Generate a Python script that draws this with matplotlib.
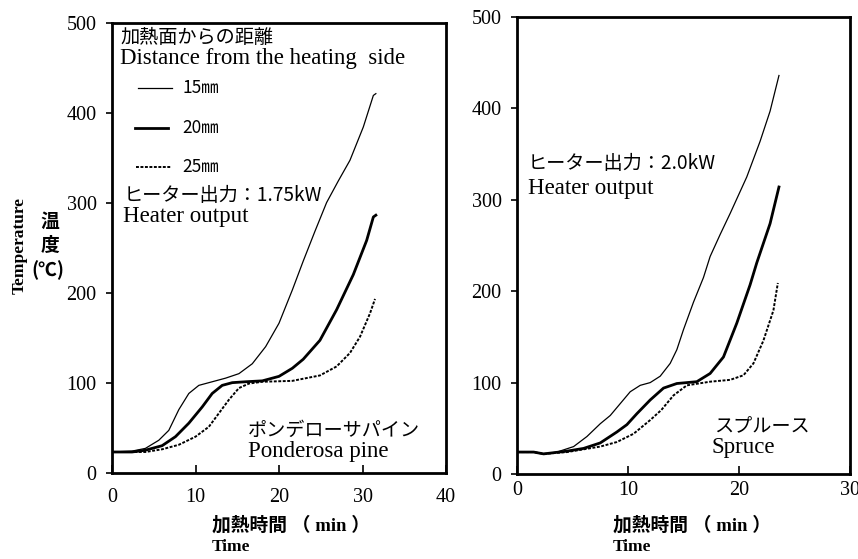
import matplotlib
matplotlib.use("Agg")
import matplotlib.pyplot as plt

# ---------------- data ----------------
# Left panel: Ponderosa pine, heater output 1.75 kW
pine_t15 = [0, 2.4, 4.0, 5.6, 6.8, 8.0, 9.2, 10.4, 12.0, 13.6, 15.2, 16.8, 18.4, 20.0, 21.6, 22.9, 24.3, 25.7, 27.1, 28.5, 30.1, 31.3, 31.6]
pine_T15 = [23, 24, 27, 36, 47, 70, 88, 97, 101, 105, 110, 121, 140, 166, 203, 235, 268, 300, 324, 347, 384, 419, 421]
pine_t20 = [0, 2.4, 4.0, 6.0, 7.6, 9.2, 10.8, 12.0, 13.2, 14.4, 16.0, 18.0, 20.0, 21.6, 22.9, 24.9, 26.9, 28.9, 30.5, 31.3, 31.6]
pine_T20 = [23, 23, 25, 30, 40, 55, 73, 88, 97, 100, 101, 102, 107, 116, 126, 147, 181, 220, 258, 284, 286]
pine_t25 = [0, 4.0, 6.0, 8.0, 10.0, 11.6, 12.8, 14.0, 15.2, 16.4, 18.0, 21.6, 24.9, 26.9, 28.5, 29.7, 30.9, 31.5]
pine_T25 = [23, 23, 26, 31, 40, 51, 66, 81, 94, 99, 101, 102, 108, 118, 133, 151, 177, 193]

# Right panel: Spruce, heater output 2.0 kW
spr_t15 = [0, 1.5, 2.4, 3.6, 5.1, 6.3, 7.5, 8.4, 9.3, 10.2, 11.1, 12.0, 12.9, 13.8, 14.4, 15.0, 15.9, 16.8, 17.4, 18.3, 19.2, 20.7, 21.9, 22.8, 23.6]
spr_T15 = [24, 24, 22, 24, 30, 41, 55, 64, 77, 90, 97, 100, 107, 121, 136, 158, 188, 215, 238, 262, 285, 325, 364, 397, 436]
spr_t20 = [0, 1.5, 2.4, 4.5, 6.0, 7.5, 9.0, 9.9, 10.8, 12.0, 13.2, 14.4, 16.2, 17.4, 18.6, 19.8, 21.0, 21.6, 22.8, 23.6]
spr_T20 = [24, 24, 22, 25, 28, 34, 46, 54, 66, 81, 94, 99, 101, 110, 128, 165, 207, 231, 274, 314]
spr_t25 = [0, 1.5, 2.4, 4.5, 7.5, 9.0, 10.5, 12.0, 13.0, 14.1, 15.3, 17.4, 19.2, 20.4, 21.3, 22.2, 23.1, 23.5]
spr_T25 = [24, 24, 22, 24, 30, 35, 44, 59, 70, 86, 97, 101, 103, 108, 121, 146, 179, 209]

y_ticks = [0, 100, 200, 300, 400, 500]
left_x_ticks = [0, 10, 20, 30, 40]
right_x_ticks = [0, 10, 20, 30]
legend_labels = ["15㎜", "20㎜", "25㎜"]

# ---------------- style ----------------
W, H = 858, 559
fig = plt.figure(figsize=(W / 100, H / 100), dpi=100)
SERIF = ["Liberation Serif", "Noto Sans CJK JP"]
CJK = ["Noto Sans CJK JP", "Liberation Serif", "DejaVu Sans"]

styles = [dict(color="black", lw=0.9, ls="-"),
          dict(color="black", lw=2.0, ls="-"),
          dict(color="black", lw=1.4, ls=(0, (1.5, 0.8)))]


def fx(px):
    return px / W


def fy(py):
    return 1 - py / H


axL = fig.add_axes([fx(112), fy(472.7), fx(446) - fx(112), fy(22.5) - fy(472.7)])
axR = fig.add_axes([fx(517), fy(474), fx(850) - fx(517), fy(17) - fy(474)])

for ax, xt, xpad in ((axL, left_x_ticks, 11), (axR, right_x_ticks, 5)):
    ax.set_ylim(0, 500)
    ax.set_xlim(xt[0], xt[-1])
    ax.set_yticks(y_ticks)
    ax.set_xticks(xt)
    ax.set_yticklabels([str(v) for v in y_ticks], fontfamily="Liberation Serif", fontsize=14.5)
    ax.set_xticklabels([str(v) for v in xt], fontfamily="Liberation Serif", fontsize=14.5)
    ax.tick_params(axis="x", direction="in", length=6, width=1.2, pad=xpad)
    ax.tick_params(axis="y", direction="out", length=4, width=1.2, pad=7)
    for s in ax.spines.values():
        s.set_linewidth(2.0)

axL.plot(pine_t15, pine_T15, **styles[0])
axL.plot(pine_t20, pine_T20, **styles[1])
axL.plot(pine_t25, pine_T25, **styles[2])
axR.plot(spr_t15, spr_T15, **styles[0])
axR.plot(spr_t20, spr_T20, **styles[1])
axR.plot(spr_t25, spr_T25, **styles[2])

JP = 13.8
EN = 16.5

# ---- left panel annotations ----
axL.text(0.024, 0.967, "加熱面からの距離", transform=axL.transAxes, family=CJK,
         fontsize=JP, va="center", ha="left")
axL.text(0.024, 0.921, "Distance from the heating  side", transform=axL.transAxes,
         family=SERIF, fontsize=EN, va="center", ha="left")
for yy, x0, x1, lab, st in zip([0.854, 0.765, 0.679], [0.078, 0.069, 0.072],
                               [0.180, 0.168, 0.177], legend_labels, styles):
    axL.plot([x0, x1], [yy, yy], transform=axL.transAxes, **st)
    axL.text(0.21, yy, lab, transform=axL.transAxes, family=CJK, fontsize=12.5,
             va="center", ha="left")
axL.text(0.036, 0.615, "ヒーター出力：1.75kW", transform=axL.transAxes, family=CJK,
         fontsize=JP, va="center", ha="left")
axL.text(0.033, 0.569, "Heater output", transform=axL.transAxes, family=SERIF,
         fontsize=EN, va="center", ha="left")
axL.text(0.407, 0.094, "ポンデローサパイン", transform=axL.transAxes, family=CJK,
         fontsize=JP, va="center", ha="left")
axL.text(0.407, 0.048, "Ponderosa pine", transform=axL.transAxes, family=SERIF,
         fontsize=EN, va="center", ha="left")

# ---- right panel annotations ----
axR.text(0.033, 0.679, "ヒーター出力：2.0kW", transform=axR.transAxes, family=CJK,
         fontsize=JP, va="center", ha="left")
axR.text(0.033, 0.625, "Heater output", transform=axR.transAxes, family=SERIF,
         fontsize=EN, va="center", ha="left")
axR.text(0.593, 0.104, "スプルース", transform=axR.transAxes, family=CJK,
         fontsize=JP, va="center", ha="left")
axR.text(0.584, 0.057, "Spruce", transform=axR.transAxes, family=SERIF,
         fontsize=EN, va="center", ha="left")

# ---- axis labels ----
for x0 in (212, 613):
    fig.text(fx(x0), fy(525), "加熱時間 （ min ）", family=SERIF, fontsize=13.5,
             weight="bold", va="center", ha="left")
    fig.text(fx(x0), fy(547), "Time", family=SERIF, fontsize=12.5,
             weight="bold", va="center", ha="left")

fig.text(fx(20), fy(245), "Temperature", family=SERIF, fontsize=12.5, weight="bold",
         rotation=90, va="center", ha="center")
fig.text(fx(50), fy(221), "温", family=CJK, fontsize=13.5, weight="bold", va="center", ha="center")
fig.text(fx(50), fy(245), "度", family=CJK, fontsize=13.5, weight="bold", va="center", ha="center")
fig.text(fx(48), fy(270), "(℃)", family=CJK, fontsize=13.5, weight="bold", va="center", ha="center")

fig.savefig("out.png", dpi=100)
